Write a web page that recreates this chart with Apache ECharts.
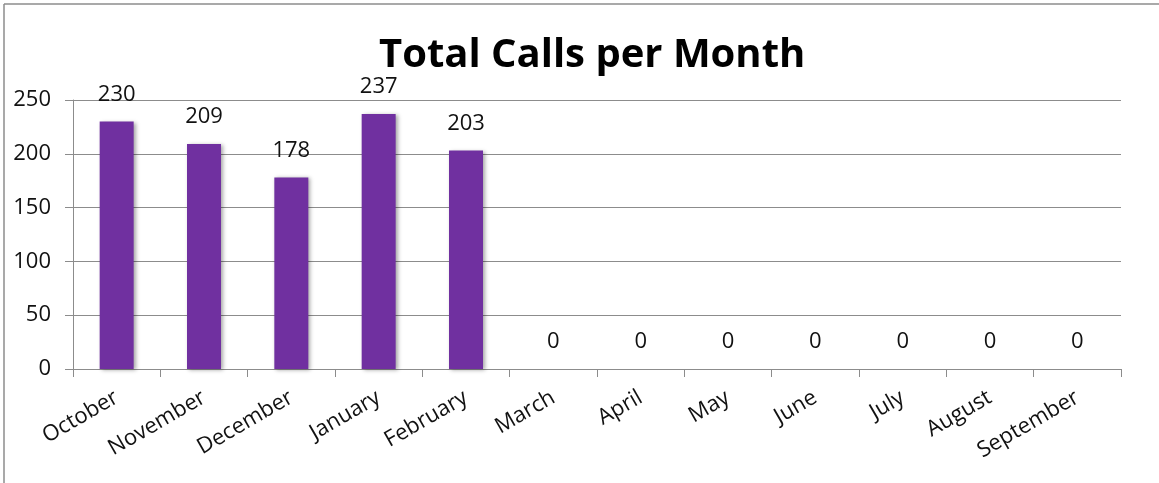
<!DOCTYPE html>
<html>
<head>
<meta charset="utf-8">
<script src="https://cdn.jsdelivr.net/npm/echarts@6/dist/echarts.min.js"></script>
<style>
  html, body { margin: 0; padding: 0; background: #fff; }
  #main { width: 1159px; height: 483px; }
</style>
</head>
<body>
<div id="main"></div>
<script>
// months on the x axis
const months = ['October', 'November', 'December', 'January', 'February', 'March',
    'April', 'May', 'June', 'July', 'August', 'September'];
// calls per month
const calls = [230, 209, 178, 237, 203, 0, 0, 0, 0, 0, 0, 0];
const yTicks = [0, 50, 100, 150, 200, 250];

const FONT = '"Open Sans", sans-serif';
const chart = echarts.init(document.getElementById('main'));

chart.setOption({
    animation: false,
    title: {
        text: 'Total Calls per Month',
        left: 374,
        top: 31,
        textStyle: {fontFamily: FONT, fontSize: 40, fontWeight: 'bold', color: '#000'}
    },
    grid: {left: 73, right: 38, top: 100, bottom: 114},
    xAxis: {
        type: 'category',
        data: months,
        axisLine: {lineStyle: {color: '#8c8c8c', width: 1}},
        axisTick: {show: true, length: 8, lineStyle: {color: '#8c8c8c'}},
        axisLabel: {rotate: 30, fontFamily: FONT, fontSize: 22, color: '#111', margin: 27}
    },
    yAxis: {
        type: 'value',
        min: yTicks[0],
        max: yTicks[yTicks.length - 1],
        interval: 50,
        axisLine: {show: true, lineStyle: {color: '#8c8c8c'}},
        axisTick: {show: true, length: 8, lineStyle: {color: '#8c8c8c'}},
        axisLabel: {fontFamily: FONT, fontSize: 22, color: '#111', margin: 22},
        splitLine: {lineStyle: {color: '#8c8c8c', width: 1}}
    },
    graphic: [
        {type: 'line', shape: {x1: 4, y1: 4, x2: 1159, y2: 4}, style: {stroke: '#8c8c8c', lineWidth: 1.5}},
        {type: 'line', shape: {x1: 4, y1: 4, x2: 4, y2: 483}, style: {stroke: '#8c8c8c', lineWidth: 1.5}}
    ],
    series: [{
        type: 'bar',
        data: calls,
        barWidth: 34,
        itemStyle: {
            color: '#7030A0',
            shadowColor: 'rgba(0,0,0,0.35)',
            shadowBlur: 4,
            shadowOffsetX: 2,
            shadowOffsetY: 1
        },
        label: {
            show: true,
            position: 'top',
            distance: 16,
            fontFamily: FONT,
            fontSize: 22,
            color: '#111'
        }
    }]
});
</script>
</body>
</html>
